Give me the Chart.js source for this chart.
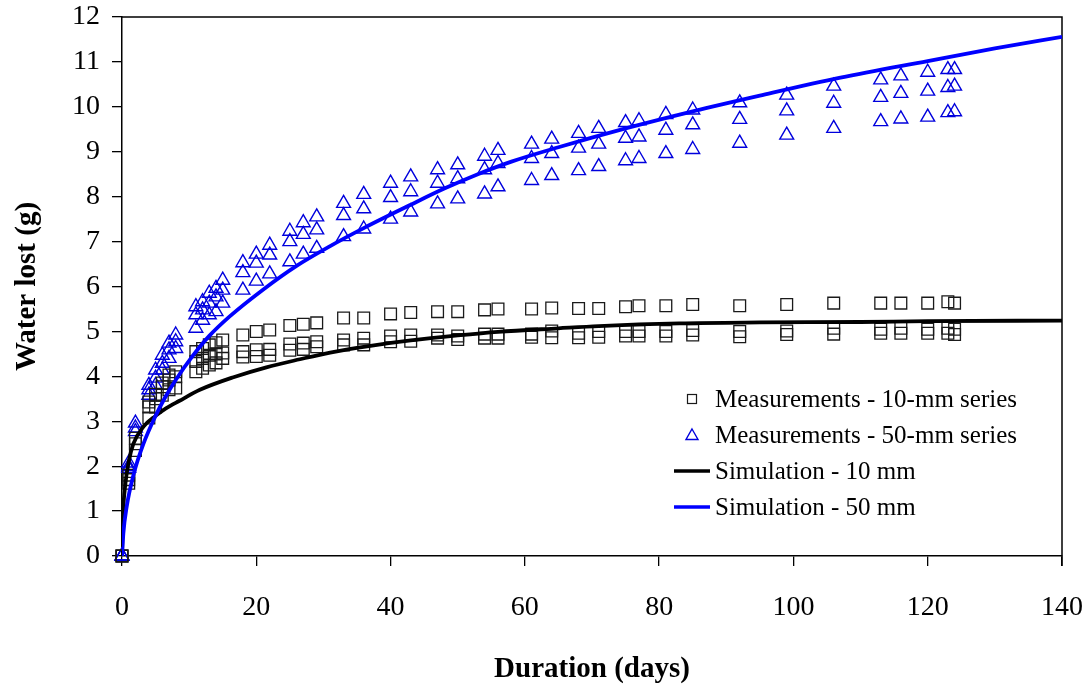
<!DOCTYPE html>
<html>
<head>
<meta charset="utf-8">
<title>Water lost vs duration</title>
<script src="https://cdn.jsdelivr.net/npm/chart.js@4.4.0/dist/chart.umd.min.js"></script>
<style>
  html, body { margin: 0; padding: 0; background: #fff; }
  #wrap { width: 1091px; height: 688px; }
</style>
</head>
<body>
<div id="wrap"><canvas id="waterChart" width="1091" height="688"></canvas></div>
<script>
// Measurement days (shared by both sample series)
const days = [0, 1, 2, 4, 5, 6, 7, 8, 11, 12, 13, 14, 15, 18, 20, 22, 25, 27, 29, 33, 36, 40, 43,
  47, 50, 54, 56, 61, 64, 68, 71, 75, 77, 81, 85, 92, 99, 106, 113, 116, 120, 123, 124];

// 10-mm series, three replicates (g)
const sq10A = [0, 1.8, 2.62, 3.43, 3.6, 3.85, 4.03, 4.1, 4.55, 4.62, 4.7, 4.75, 4.81, 4.92, 5.0, 5.03,
  5.13, 5.16, 5.19, 5.3, 5.3, 5.39, 5.42, 5.44, 5.44, 5.48, 5.5, 5.5, 5.52, 5.51, 5.51, 5.55, 5.57,
  5.57, 5.6, 5.57, 5.6, 5.63, 5.63, 5.63, 5.63, 5.66, 5.63];
const sq10B = [0, 1.7, 2.5, 3.32, 3.5, 3.77, 3.92, 3.99, 4.33, 4.4, 4.47, 4.5, 4.52, 4.55, 4.59, 4.6,
  4.72, 4.74, 4.77, 4.81, 4.85, 4.9, 4.92, 4.92, 4.9, 4.94, 4.94, 4.94, 5.01, 4.96, 5.0, 5.0, 5.0,
  5.0, 5.02, 5.0, 5.01, 5.07, 5.05, 5.07, 5.05, 5.07, 5.05];
const sq10C = [0, 1.62, 2.35, 3.07, 3.32, 3.58, 3.7, 3.74, 4.1, 4.18, 4.25, 4.3, 4.4, 4.43, 4.44, 4.47,
  4.58, 4.6, 4.66, 4.7, 4.7, 4.77, 4.78, 4.85, 4.82, 4.85, 4.85, 4.87, 4.86, 4.86, 4.87, 4.9, 4.9,
  4.9, 4.92, 4.88, 4.93, 4.94, 4.96, 4.96, 4.96, 4.96, 4.93];

// 50-mm series, three replicates (g)
const tri50A = [0, 2.07, 2.96, 3.8, 4.14, 4.47, 4.74, 4.92, 5.55, 5.66, 5.85, 5.96, 6.14, 6.53, 6.72,
  6.92, 7.23, 7.42, 7.55, 7.85, 8.05, 8.3, 8.44, 8.6, 8.71, 8.9, 9.03, 9.17, 9.28, 9.41, 9.52, 9.65,
  9.69, 9.83, 9.93, 10.09, 10.26, 10.46, 10.6, 10.69, 10.77, 10.83, 10.83];
const tri50B = [0, 1.99, 2.85, 3.7, 3.96, 4.29, 4.59, 4.77, 5.37, 5.48, 5.63, 5.77, 5.92, 6.31, 6.52,
  6.7, 7.0, 7.16, 7.26, 7.58, 7.73, 7.98, 8.11, 8.3, 8.4, 8.6, 8.74, 8.85, 8.96, 9.08, 9.17, 9.3,
  9.33, 9.48, 9.6, 9.72, 9.91, 10.08, 10.21, 10.3, 10.35, 10.43, 10.46];
const tri50C = [0, 1.95, 2.77, 3.58, 3.8, 4.14, 4.4, 4.62, 5.07, 5.25, 5.37, 5.44, 5.63, 5.92, 6.12,
  6.28, 6.55, 6.72, 6.85, 7.11, 7.28, 7.5, 7.66, 7.84, 7.95, 8.06, 8.22, 8.36, 8.47, 8.58, 8.67, 8.8,
  8.85, 8.96, 9.05, 9.19, 9.37, 9.52, 9.67, 9.73, 9.77, 9.87, 9.89];

// Simulation curves
const sim10Days = [0, 0.15, 0.5, 1, 1.7, 3.2, 5, 6.6, 8.5, 11.6, 16.6, 21.5, 26.5, 31, 37, 43, 50, 56,
  65, 71, 83, 95, 110, 120, 140];
const sim10 = [0, 0.9, 1.6, 2.1, 2.5, 2.88, 3.12, 3.29, 3.45, 3.7, 3.98, 4.2, 4.38, 4.53, 4.68, 4.8,
  4.91, 4.99, 5.07, 5.12, 5.18, 5.2, 5.21, 5.23, 5.24];
const sim50Days = [0, 0.2, 0.7, 1.7, 3.2, 5, 6.5, 8, 10.5, 13, 16, 21, 26, 31, 36, 43, 48, 53, 58, 65,
  75, 85, 95, 107, 120, 130, 140];
const sim50 = [0, 0.5, 1.1, 1.8, 2.5, 3.12, 3.55, 3.92, 4.45, 4.9, 5.33, 5.93, 6.46, 6.9, 7.3, 7.82,
  8.18, 8.5, 8.78, 9.1, 9.52, 9.9, 10.25, 10.65, 11.02, 11.3, 11.56];

const serif = "'Times New Roman', 'Liberation Serif', serif";

function toPoints(xs, ...series) {
  const pts = [];
  series.forEach(s => s.forEach((v, i) => pts.push({ x: xs[i], y: v })));
  return pts;
}

// top and right edges of the plot box
const frameBox = {
  id: 'frameBox',
  beforeDatasetsDraw(chart) {
    const { ctx, chartArea: a } = chart;
    ctx.save();
    ctx.strokeStyle = '#000';
    ctx.lineWidth = 1.5;
    ctx.beginPath();
    ctx.moveTo(a.left, a.top);
    ctx.lineTo(a.right, a.top);
    ctx.lineTo(a.right, a.bottom + 10);
    ctx.stroke();
    ctx.restore();
  }
};

// legend drawn inside the plot, lower right
const insideLegend = {
  id: 'insideLegend',
  afterDraw(chart) {
    const { ctx } = chart;
    const sx = 692, tx = 715, y0 = 399, dy = 36;
    ctx.save();
    ctx.font = '25px ' + serif;
    ctx.textBaseline = 'middle';
    ctx.textAlign = 'left';
    chart.data.datasets.forEach((ds, i) => {
      const y = y0 + i * dy;
      ctx.strokeStyle = ds.borderColor;
      if (ds.pointStyle === 'rect') {
        ctx.lineWidth = 1.2;
        ctx.strokeRect(sx - 4.5, y - 4.5, 9, 9);
      } else if (ds.pointStyle === 'triangle') {
        ctx.lineWidth = 1.4;
        ctx.beginPath();
        ctx.moveTo(sx, y - 6);
        ctx.lineTo(sx + 6, y + 4.5);
        ctx.lineTo(sx - 6, y + 4.5);
        ctx.closePath();
        ctx.stroke();
      } else {
        ctx.lineWidth = 3.5;
        ctx.beginPath();
        ctx.moveTo(sx - 18, y);
        ctx.lineTo(sx + 18, y);
        ctx.stroke();
      }
      ctx.fillStyle = '#000';
      ctx.fillText(ds.label, tx, y + 1);
    });
    ctx.restore();
  }
};

const chart = new Chart(document.getElementById('waterChart').getContext('2d'), {
  type: 'scatter',
  data: {
    datasets: [
      {
        label: 'Measurements - 10-mm series',
        data: toPoints(days, sq10A, sq10B, sq10C),
        pointStyle: 'rect',
        pointRadius: 8.3,
        borderColor: '#1a1a1a',
        backgroundColor: 'rgba(0,0,0,0)',
        borderWidth: 1.3,
        clip: false,
        order: 2
      },
      {
        label: 'Measurements - 50-mm series',
        data: toPoints(days, tri50A, tri50B, tri50C),
        pointStyle: 'triangle',
        pointRadius: 8,
        borderColor: '#0000dd',
        backgroundColor: 'rgba(0,0,0,0)',
        borderWidth: 1.4,
        clip: false,
        order: 3
      },
      {
        label: 'Simulation - 10 mm',
        data: toPoints(sim10Days, sim10),
        showLine: true,
        pointRadius: 0,
        borderColor: '#000000',
        borderWidth: 3.8,
        cubicInterpolationMode: 'monotone',
        order: 1
      },
      {
        label: 'Simulation - 50 mm',
        data: toPoints(sim50Days, sim50),
        showLine: true,
        pointRadius: 0,
        borderColor: '#0000ff',
        borderWidth: 3.8,
        cubicInterpolationMode: 'monotone',
        order: 0
      }
    ]
  },
  options: {
    responsive: false,
    animation: false,
    layout: { padding: { top: 17, right: 29, bottom: 0, left: 0 } },
    plugins: {
      legend: { display: false },
      tooltip: { enabled: false }
    },
    scales: {
      x: {
        type: 'linear',
        min: 0,
        max: 140,
        // fixed axis band; let layout padding decide the plot edges
        afterFit: s => { s.height = 132; s.paddingLeft = 0; s.paddingRight = 0; },
        ticks: { stepSize: 20, color: '#000', padding: 25, font: { family: serif, size: 28 } },
        grid: { drawOnChartArea: false, tickLength: 10, color: '#000', lineWidth: 1.3 },
        border: { color: '#000', width: 1.5 },
        title: {
          display: true,
          text: 'Duration (days)',
          color: '#000',
          font: { family: serif, size: 29, weight: 'bold' },
          padding: { top: 0, bottom: 1 }
        }
      },
      y: {
        type: 'linear',
        min: 0,
        max: 12,
        afterFit: s => { s.width = 122; s.paddingTop = 0; s.paddingBottom = 0; },
        ticks: { stepSize: 1, color: '#000', padding: 12, font: { family: serif, size: 28 } },
        grid: { drawOnChartArea: false, tickLength: 10, color: '#000', lineWidth: 1.3 },
        border: { color: '#000', width: 1.5 },
        title: {
          display: true,
          text: 'Water lost (g)',
          color: '#000',
          font: { family: serif, size: 29, weight: 'bold' },
          padding: { top: 10, bottom: 0 }
        }
      }
    }
  },
  plugins: [frameBox, insideLegend]
});
</script>
</body>
</html>
